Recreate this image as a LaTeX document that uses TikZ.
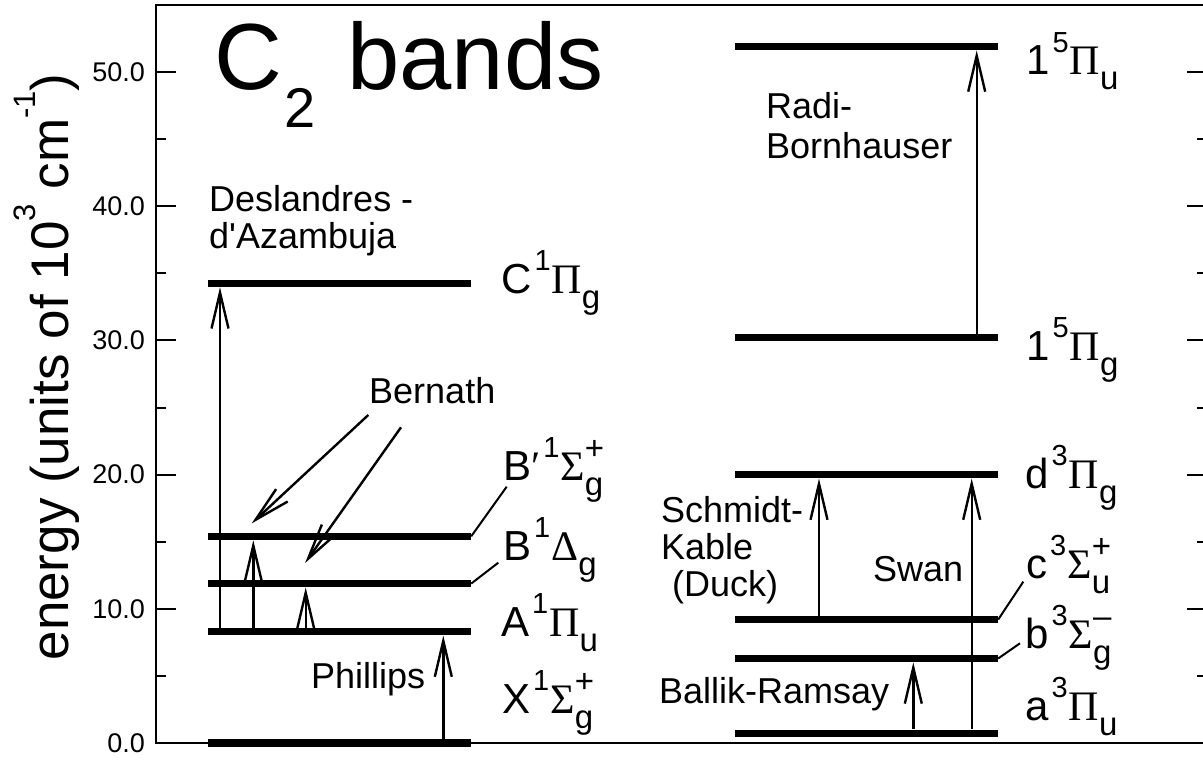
\documentclass[tikz,border=0pt]{standalone}
\usepackage{fontspec}
\setmainfont{Liberation Sans}
\newfontfamily\grk{Liberation Serif}
\usetikzlibrary{arrows.meta}
\newcommand{\supsz}{\fontsize{29}{29}\selectfont}
\newcommand{\subsz}{\fontsize{33}{33}\selectfont}
% state label: letter, multiplicity, greek, sub, sup
\newcommand{\stlab}[5]{#1\kern3pt\raisebox{23pt}{\supsz #2}\kern1pt{\grk #3}\rlap{\raisebox{-15pt}{\subsz #4}}\raisebox{21pt}{\subsz #5}}
\tikzset{
    lvl/.style={fill=black, inner sep=0pt, minimum width=263pt, minimum height=7.5pt},
    trans/.style={line width=2.4pt, -{Straight Barb[length=36pt, width=17pt]}},
    lead/.style={line width=2pt},
    frm/.style={line width=2pt},
    band/.style={anchor=base west, inner sep=0pt, align=left, font=\fontsize{36}{37}\selectfont},
    term/.style={anchor=base west, inner sep=0pt, font=\fontsize{42}{42}\selectfont},
    ticklab/.style={anchor=east, inner sep=0pt, font=\fontsize{27}{27}\selectfont}
}
\begin{document}
\begin{tikzpicture}[x=1pt, y=-1pt]
    \useasboundingbox (0,0) rectangle (1203,760);
    \draw[frm] (1206,5) -- (156,5) -- (156,743) -- (1206,743);

    % energy scale: 1 unit = 10^3 cm^-1
    \begin{scope}[shift={(0,743)}, y=13.42pt]
        \foreach \e in {0,10,...,50} {
            \draw[frm] (156,\e) -- (176,\e);
            \draw[frm] (1187,\e) -- (1206,\e);
            \node[ticklab] at (145,\e) {\e.0};
        }
        \foreach \e in {5,15,...,45} {
            \draw[frm] (156,\e) -- (166,\e);
            \draw[frm] (1197,\e) -- (1206,\e);
        }
        % singlets
        \node[lvl] (X) at (339.5,0) {};
        \node[lvl] (A) at (339.5,8.3) {};
        \node[lvl] (B) at (339.5,11.88) {};
        \node[lvl] (Bp) at (339.5,15.4) {};
        \node[lvl] (C) at (339.5,34.25) {};
        % triplets and quintets
        \node[lvl] (a) at (866.5,0.72) {};
        \node[lvl] (b) at (866.5,6.3) {};
        \node[lvl] (c) at (866.5,9.2) {};
        \node[lvl] (d) at (866.5,20) {};
        \node[lvl] (Pg) at (866.5,30.2) {};
        \node[lvl] (Pu) at (866.5,51.9) {};
    \end{scope}

    \node[anchor=base west, inner sep=0pt, font=\fontsize{94}{94}\selectfont] (title) at (214,90)
        {C\kern2pt\raisebox{-38pt}{\fontsize{56}{56}\selectfont 2}\hspace{6pt} bands};
    \node[rotate=90, anchor=base, inner sep=0pt, font=\fontsize{53}{53}\selectfont] (ylab) at (68,367)
        {energy (units of 10\raisebox{33pt}{\fontsize{31}{31}\selectfont 3} cm\raisebox{33pt}{\fontsize{31}{31}\selectfont -1})};

    \node[term] (Ctxt) at (501,293) {\stlab{C}{1}{Π}{g}{}};
    \node[term] (Bptxt) at (503,480) {\stlab{B{\grk ′}}{1}{Σ}{g}{+}};
    \node[term] (Btxt) at (503,560) {\stlab{B}{1}{Δ}{g}{}};
    \node[term] (Atxt) at (501,636.7) {\stlab{A}{1}{Π}{u}{}};
    \node[term] (Xtxt) at (502,713.3) {\stlab{X}{1}{Σ}{g}{+}};
    \node[term] (Putxt) at (1026,75) {\stlab{1}{5}{Π}{u}{}};
    \node[term] (Pgtxt) at (1026,360) {\stlab{1}{5}{Π}{g}{}};
    \node[term] (dtxt) at (1025,488.3) {\stlab{d}{3}{Π}{g}{}};
    \node[term] (ctxt) at (1026,578.3) {\stlab{c}{3}{Σ}{u}{+}};
    \node[term] (btxt) at (1025,648.3) {\stlab{b}{3}{Σ}{g}{–}};
    \node[term] (atxt) at (1025,720) {\stlab{a}{3}{Π}{u}{}};

    % multi-line labels sit on the baseline of their last line
    \node[band] (desl) at (209,248) {Deslandres -\\d\textquotesingle Azambuja};
    \node[band] (bern) at (369,403.3) {Bernath};
    \node[band] (phil) at (311,688.3) {Phillips};
    \node[band] (radi) at (766,158.3) {Radi-\\[3pt]Bornhauser};
    \node[band] (schm) at (661,596.7) {Schmidt-\\Kable\\\hspace*{11pt}(Duck)};
    \node[band] (swan) at (873,581.7) {Swan};
    \node[band] (ball) at (659,703.3) {Ballik-Ramsay};

    \draw[lead] (Bp.east) -- ([xshift=3.7pt, yshift=-6.7pt]Bptxt.base west);
    \draw[lead] (B.east) -- ([xshift=-4.7pt, yshift=-2.7pt]Btxt.base west);
    \draw[lead] (c.east) -- ([xshift=-2.7pt, yshift=-3.4pt]ctxt.base west);
    \draw[lead] (b.east) -- ([xshift=-5pt, yshift=5pt]btxt.base west);

    \draw[trans] ([xshift=-119.5pt]A.north) -- ([xshift=-119.5pt]C.south);
    \draw[trans] ([xshift=-86.2pt]A.north) -- ([xshift=-86.2pt]Bp.south);
    \draw[trans] ([xshift=-33.8pt]A.north) -- ([xshift=-33.8pt]B.south);
    \draw[trans] ([xshift=103.8pt]X.north) -- ([xshift=103.8pt]A.south);
    \draw[trans] ([xshift=-0.7pt, yshift=-11.7pt]bern.base west) -- ([xshift=-87.8pt, yshift=9pt]Bp.north);
    \draw[trans] ([xshift=32pt, yshift=-24pt]bern.base west) -- ([xshift=-34.5pt, yshift=16.5pt]B.north);

    \draw[trans] ([xshift=110.2pt]Pg.north) -- ([xshift=110.2pt]Pu.south);
    \draw[trans] ([xshift=-47.5pt]c.north) -- ([xshift=-47.5pt]d.south);
    \draw[trans] ([xshift=105.2pt]a.north) -- ([xshift=105.2pt]d.south);
    \draw[trans] ([xshift=46.8pt]a.north) -- ([xshift=46.8pt]b.south);
\end{tikzpicture}
\end{document}
